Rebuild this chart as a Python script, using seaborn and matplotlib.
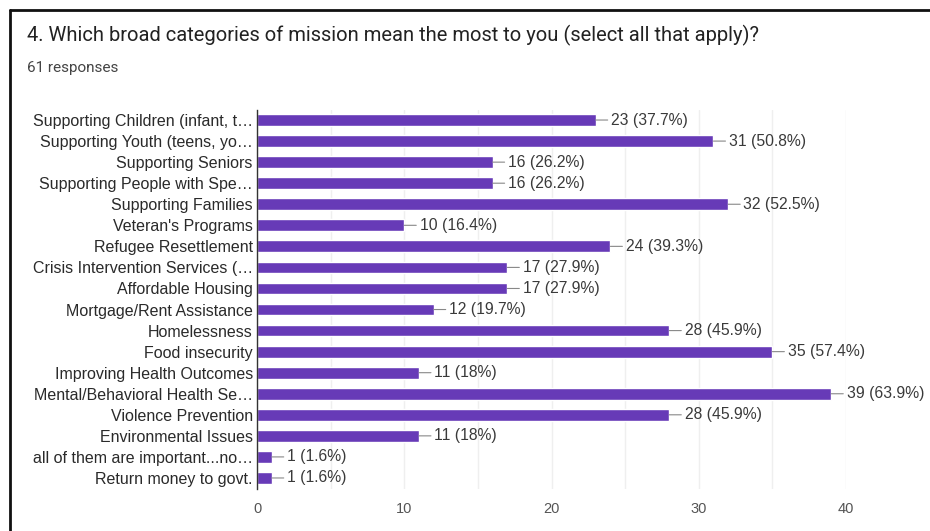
import matplotlib
matplotlib.use("Agg")
import matplotlib.pyplot as plt
import seaborn as sns
import pandas as pd

categories = [
    "Supporting Children (infant, t…",
    "Supporting Youth (teens, yo…",
    "Supporting Seniors",
    "Supporting People with Spe…",
    "Supporting Families",
    "Veteran's Programs",
    "Refugee Resettlement",
    "Crisis Intervention Services (…",
    "Affordable Housing",
    "Mortgage/Rent Assistance",
    "Homelessness",
    "Food insecurity",
    "Improving Health Outcomes",
    "Mental/Behavioral Health Se…",
    "Violence Prevention",
    "Environmental Issues",
    "all of them are important...no…",
    "Return money to govt.",
]
counts = [23, 31, 16, 16, 32, 10, 24, 17, 17, 12, 28, 35, 11, 39, 28, 11, 1, 1]
percents = ["37.7%", "50.8%", "26.2%", "26.2%", "52.5%", "16.4%", "39.3%", "27.9%",
            "27.9%", "19.7%", "45.9%", "57.4%", "18%", "63.9%", "45.9%", "18%",
            "1.6%", "1.6%"]
title = "4. Which broad categories of mission mean the most to you (select all that apply)?"
subtitle = "61 responses"
xticks = [0, 10, 20, 30, 40]

sns.set_theme(style="white")
plt.rcParams["font.family"] = ["Liberation Sans", "DejaVu Sans"]

df = pd.DataFrame({"category": categories, "count": counts})

W, H = 930, 531
fig = plt.figure(figsize=(W / 100, H / 100), dpi=100)
ax_top, ax_bot = 109.5, 488.5
ax = fig.add_axes([257 / W, 1 - ax_bot / H, (846 - 257) / W, (ax_bot - ax_top) / H])

sns.barplot(data=df, y="category", x="count", orient="h", color="#673ab7",
            saturation=1, width=0.56, ax=ax, zorder=3)

ax.set_xlim(0, 40)
ax.set_ylim(len(categories) - 0.5, -0.5)
ax.set_xticks(xticks)
ax.set_xticks(range(0, 41, 5), minor=True)
ax.grid(axis="x", which="both", color="#efefef", lw=1, zorder=0)
ax.grid(axis="y", visible=False)
ax.set_xlabel("")
ax.set_ylabel("")
for s in ["top", "right", "bottom"]:
    ax.spines[s].set_visible(False)
ax.spines["left"].set_color("#333333")
ax.spines["left"].set_linewidth(1.0)
ax.spines["left"].set_zorder(4)
ax.tick_params(axis="both", which="both", length=0)
ax.tick_params(axis="y", labelsize=11.5, labelcolor="#2a2a2a", pad=3)
ax.tick_params(axis="x", labelsize=10.5, labelcolor="#555555", pad=9.5)

for i, (c, p) in enumerate(zip(counts, percents)):
    ax.annotate(f"{c} ({p})", xy=(c, i), xytext=(11, 0), textcoords="offset points",
                ha="left", va="center", fontsize=11.3, color="#3a3a3a",
                arrowprops=dict(arrowstyle="-", color="#888888", lw=0.8,
                                shrinkA=0, shrinkB=0))

fig.text(27 / W, 1 - 35 / H, title, fontsize=14.5, color="#222222",
         ha="left", va="center", family=["Roboto", "DejaVu Sans"])
fig.text(27 / W, 1 - 68 / H, subtitle, fontsize=11, color="#444444",
         ha="left", va="center", family=["Roboto", "DejaVu Sans"])

# frame lines (top and left) as in the screenshot
fig.add_artist(plt.Line2D([10 / W, 1], [1 - 10 / H, 1 - 10 / H],
                          transform=fig.transFigure, color="#111111", lw=2))
fig.add_artist(plt.Line2D([10 / W, 10 / W], [0, 1 - 10 / H],
                          transform=fig.transFigure, color="#111111", lw=2))

fig.savefig("out.png", dpi=100)
